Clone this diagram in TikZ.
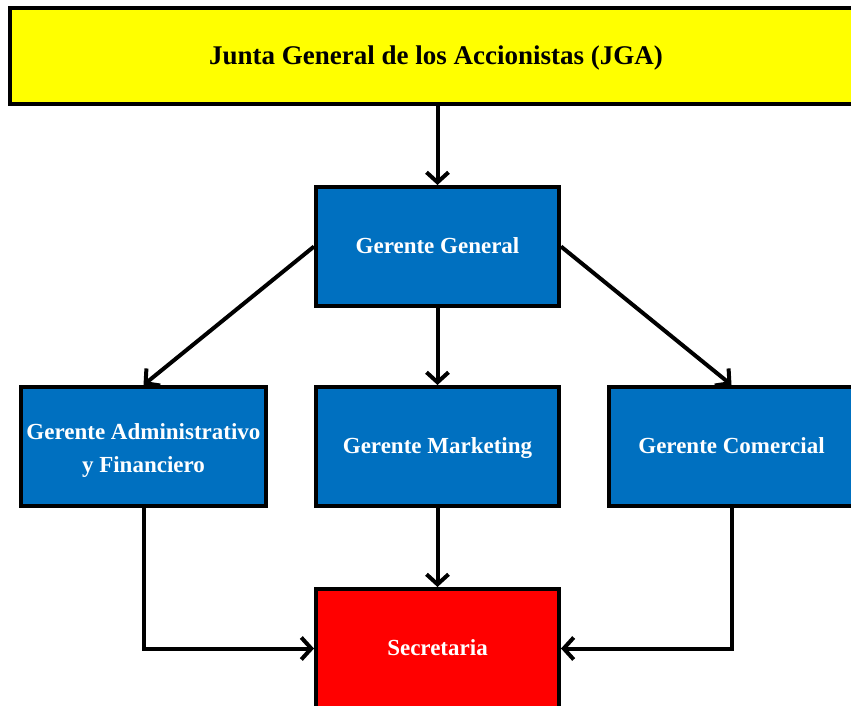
\documentclass[tikz,border=0pt]{standalone}
\usepackage{fontspec}
\setmainfont{Liberation Serif}
\usetikzlibrary{arrows.meta,shadows}
\definecolor{boxyellow}{HTML}{FFFF00}
\definecolor{boxblue}{HTML}{0070C0}
\definecolor{boxred}{HTML}{FF0000}
\tikzset{
  orgbox/.style={draw=black, line width=4pt, rectangle, align=center,
    font=\fontsize{23}{33}\selectfont\bfseries, inner sep=0pt,
    drop shadow={opacity=0.2, shadow xshift=1pt, shadow yshift=-2pt}},
  oneline/.style={text height=17pt, text depth=4pt},
  bluebox/.style={orgbox, fill=boxblue, text=white, minimum width=243pt, minimum height=119pt},
  conn/.style={line width=4pt, -{Straight Barb[length=10pt, width=22pt, line width=4pt]}, line join=miter}
}
\begin{document}
\begin{tikzpicture}[x=1pt, y=-1pt]
\useasboundingbox (0,0) rectangle (851,706);
\clip (0,0) rectangle (851,706);
\fill[white] (0,0) rectangle (851,706);
\node[orgbox, fill=boxyellow, text=black, minimum width=852pt, minimum height=96pt,
  text height=20pt, text depth=3.2pt,
  font=\fontsize{27}{32}\selectfont\bfseries] (jga) at (436,56) {Junta General de los Accionistas (JGA)};
\node[bluebox, oneline] (gg) at (437.5,246.5) {Gerente General};
\node[bluebox, minimum width=245pt] (ga) at (143.5,446.5) {\strut Gerente Administrativo\\y Financiero};
\node[bluebox, oneline] (gm) at (437.5,446.5) {Gerente Marketing};
\node[bluebox, oneline, minimum width=245pt] (gc) at (731.5,446.5) {Gerente Comercial};
\node[orgbox, oneline, fill=boxred, text=white, minimum width=243pt, minimum height=119pt] (sec) at (437.5,648.5) {Secretaria};
\draw[conn] (jga.south -| gg.north) -- (gg.north);
\draw[conn] (gg.west) -- (ga.north);
\draw[conn] (gg.south) -- (gm.north);
\draw[conn] (gg.east) -- (gc.north);
\draw[conn] (gm.south) -- (sec.north);
\draw[conn] (ga.south) |- (sec.west);
\draw[conn] (gc.south) |- (sec.east);
\end{tikzpicture}
\end{document}
